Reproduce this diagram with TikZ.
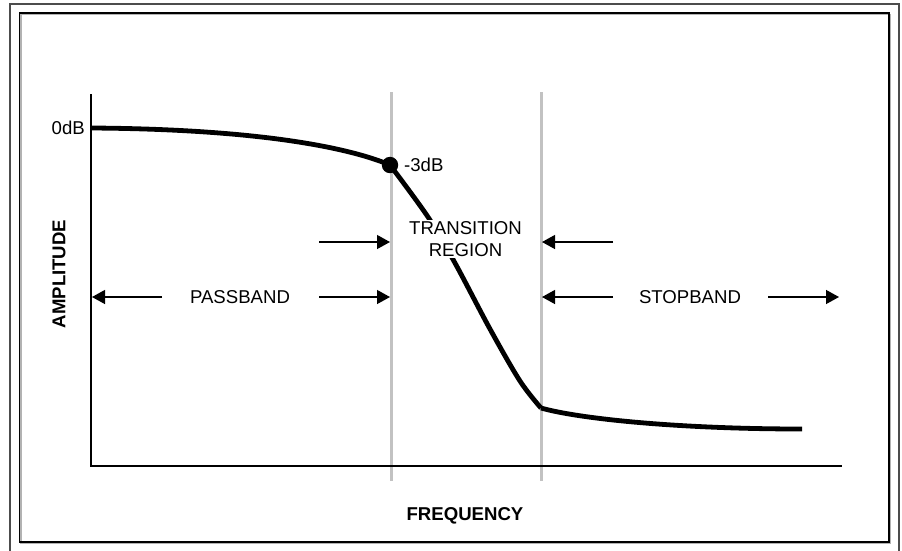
\documentclass[tikz,border=0pt]{standalone}
\usepackage{fontspec}
\setmainfont{Liberation Sans}
\usetikzlibrary{arrows.meta}
\begin{document}
\begin{tikzpicture}[x=1pt,y=-1pt,
  lbl/.style={font=\fontsize{18.6}{22}\selectfont, inner sep=0pt},
  axlbl/.style={font=\fontsize{18.6}{22}\selectfont\bfseries, inner sep=0pt},
  axisline/.style={line width=1.4pt, black},
  guide/.style={line width=3pt, color=black!24},
  resp/.style={line width=4.8pt, black, line join=round},
  dimarrow/.style={line width=1.3pt, -{Triangle[length=13pt,width=14pt]}}]
\useasboundingbox (0,0) rectangle (902,550);
% frames
\draw[line width=2pt, color=black!70] (10,3.5) rectangle (899,560);
\draw[line width=1.5pt, color=black!30] (21,14.5) rectangle (890.5,543.5);
\draw[line width=1.2pt, black] (19.5,13) rectangle (889,542);
% guides
\coordinate (g1t) at (391,92); \coordinate (g1b) at (391,481);
\coordinate (g2t) at (541,92); \coordinate (g2b) at (541,481);
\draw[guide] (g1t) -- (g1b);
\draw[guide] (g2t) -- (g2b);
% axes
\coordinate (ytop) at (91,94);
\coordinate (orig) at (91,466);
\coordinate (xend) at (842,466);
\draw[axisline] (ytop) -- (orig) -- (xend);
% response curve
\coordinate (p0) at (91,128);
\coordinate (p3) at (390,165);
\coordinate (pk) at (541,408);
\coordinate (pe) at (802,429);
\draw[resp] (p0) .. controls (250,129) and (345,146) .. (p3);
\draw[resp] plot[smooth, tension=0.55] coordinates {(390,165) (428,217) (455,263) (490,329) (520,381) (541,408)};
\draw[resp] (pk) .. controls (580,419) and (680,429) .. (pe);
\fill (p3) circle (8.2);
% labels
\node[lbl, anchor=east] (zero) at (85,128) {0dB};
\node[lbl, anchor=west] (m3) at (404,165) {-3dB};
\node[lbl, fill=white, inner sep=2pt, align=center] (trans) at (465.5,239) {TRANSITION\\[-0.5pt]REGION};
\node[lbl] (pass) at (240,297) {PASSBAND};
\node[lbl] (stop) at (690,297) {STOPBAND};
\node[axlbl, rotate=90] (amp) at (59,274) {AMPLITUDE};
\node[axlbl] (freq) at (465,516) {FREQUENCY};
% dimension arrows
\coordinate (t1a) at (319,242); \coordinate (t1b) at (390,242);
\coordinate (t2a) at (613,242); \coordinate (t2b) at (542,242);
\draw[dimarrow] (t1a) -- (t1b);
\draw[dimarrow] (t2a) -- (t2b);
\coordinate (pa1) at (162,297); \coordinate (pa1e) at (92,297);
\coordinate (pa2) at (319,297); \coordinate (pa2e) at (390,297);
\draw[dimarrow] (pa1) -- (pa1e);
\draw[dimarrow] (pa2) -- (pa2e);
\coordinate (sa1) at (613,297); \coordinate (sa1e) at (542,297);
\coordinate (sa2) at (768,297); \coordinate (sa2e) at (839,297);
\draw[dimarrow] (sa1) -- (sa1e);
\draw[dimarrow] (sa2) -- (sa2e);
\end{tikzpicture}
\end{document}
